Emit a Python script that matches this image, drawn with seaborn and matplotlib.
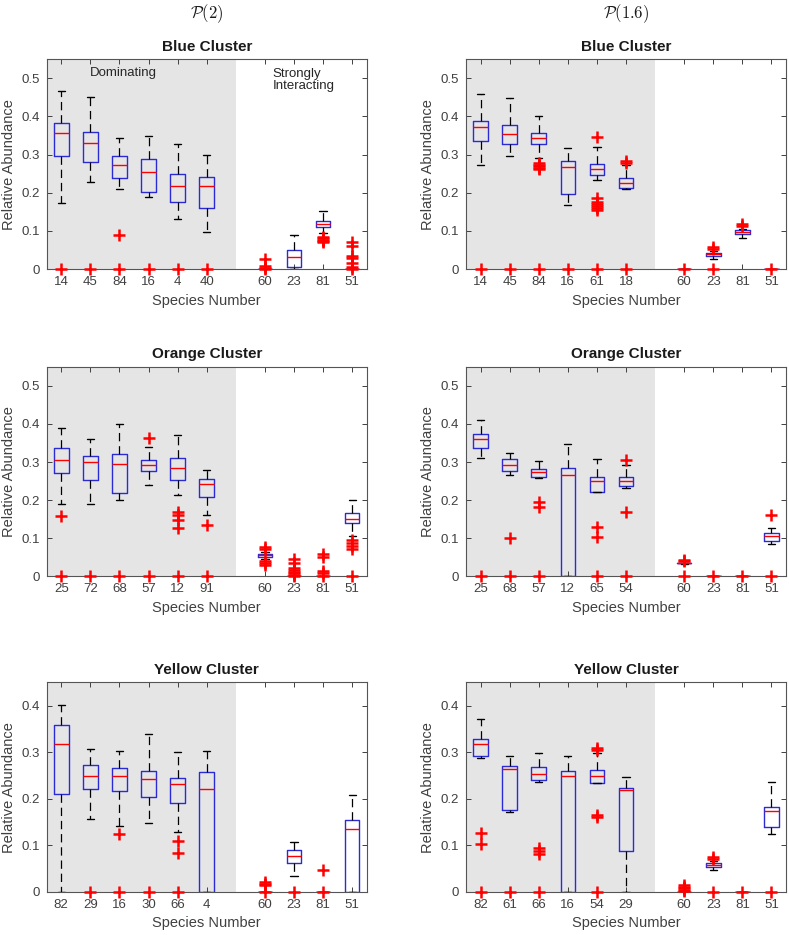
import matplotlib
matplotlib.use("Agg")
import matplotlib.pyplot as plt
import numpy as np
import pandas as pd
import seaborn as sns

# ---------------- data ----------------
POS = [1, 2, 3, 4, 5, 6, 8, 9, 10, 11]

# Blue cluster, P(2)
B2_LABELS = ["14", "45", "84", "16", "4", "40", "60", "23", "81", "51"]
B2_Q1 = [0.296, 0.281, 0.239, 0.202, 0.175, 0.160, 0.0, 0.004, 0.110, 0.0]
B2_MED = [0.356, 0.331, 0.273, 0.254, 0.218, 0.218, 0.0, 0.031, 0.119, 0.0]
B2_Q3 = [0.383, 0.359, 0.296, 0.288, 0.249, 0.241, 0.0, 0.049, 0.127, 0.0]
B2_LO = [0.172, 0.229, 0.211, 0.188, 0.131, 0.096, 0.0, 0.0, 0.095, 0.0]
B2_HI = [0.468, 0.452, 0.343, 0.350, 0.328, 0.298, 0.0, 0.088, 0.151, 0.0]
B2_FLIERS = [[0], [0], [0.090, 0], [0], [0], [0],
             [0.025, 0.008, 0.003, 0], [], [0.085, 0.080, 0.077, 0.074, 0.070],
             [0.072, 0.060, 0.035, 0.028, 0.015, 0.005, 0]]

# Blue cluster, P(1.6)
B16_LABELS = ["14", "45", "84", "16", "61", "18", "60", "23", "81", "51"]
B16_Q1 = [0.337, 0.329, 0.327, 0.196, 0.246, 0.213, 0.0, 0.035, 0.091, 0.0]
B16_MED = [0.372, 0.353, 0.343, 0.268, 0.262, 0.225, 0.0, 0.039, 0.096, 0.0]
B16_Q3 = [0.389, 0.377, 0.357, 0.282, 0.276, 0.239, 0.0, 0.043, 0.101, 0.0]
B16_LO = [0.274, 0.297, 0.291, 0.168, 0.233, 0.211, 0.0, 0.025, 0.081, 0.0]
B16_HI = [0.460, 0.449, 0.401, 0.318, 0.320, 0.273, 0.0, 0.048, 0.105, 0.0]
B16_FLIERS = [[0], [0], [0.278, 0.274, 0.270, 0.266, 0.262, 0], [0],
              [0.346, 0.185, 0.175, 0.170, 0.165, 0.160, 0.155, 0],
              [0.283, 0.278, 0], [0], [0.057, 0.052, 0], [0.118, 0.112], [0]]

# Orange cluster, P(2)
O2_LABELS = ["25", "72", "68", "57", "12", "91", "60", "23", "81", "51"]
O2_Q1 = [0.271, 0.254, 0.220, 0.276, 0.253, 0.208, 0.050, 0.0, 0.0, 0.140]
O2_MED = [0.306, 0.301, 0.296, 0.292, 0.285, 0.243, 0.056, 0.0, 0.0, 0.151]
O2_Q3 = [0.337, 0.316, 0.321, 0.306, 0.310, 0.255, 0.060, 0.0, 0.0, 0.167]
O2_LO = [0.191, 0.191, 0.200, 0.239, 0.213, 0.161, 0.045, 0.0, 0.0, 0.105]
O2_HI = [0.389, 0.360, 0.399, 0.339, 0.370, 0.279, 0.065, 0.0, 0.0, 0.200]
O2_FLIERS = [[0.158, 0], [0], [0], [0.362, 0], [0.170, 0.162, 0.148, 0.128, 0],
             [0.134, 0], [0.078, 0.072, 0.040, 0.035, 0.030],
             [0.046, 0.036, 0.022, 0.017, 0.012, 0.008, 0.004, 0],
             [0.058, 0.050, 0.015, 0.010, 0], [0.095, 0.088, 0.080, 0.073, 0]]

# Orange cluster, P(1.6)
O16_LABELS = ["25", "68", "57", "12", "65", "54", "60", "23", "81", "51"]
O16_Q1 = [0.337, 0.276, 0.260, 0.0, 0.221, 0.236, 0.034, 0.0, 0.0, 0.094]
O16_MED = [0.360, 0.292, 0.274, 0.266, 0.250, 0.249, 0.034, 0.0, 0.0, 0.106]
O16_Q3 = [0.374, 0.307, 0.282, 0.285, 0.261, 0.262, 0.034, 0.0, 0.0, 0.114]
O16_LO = [0.311, 0.267, 0.257, 0.0, 0.221, 0.232, 0.032, 0.0, 0.0, 0.086]
O16_HI = [0.411, 0.324, 0.303, 0.346, 0.308, 0.293, 0.036, 0.0, 0.0, 0.127]
O16_FLIERS = [[0], [0.102, 0], [0.196, 0.181, 0], [], [0.129, 0.103, 0],
              [0.306, 0.168, 0], [0.044, 0.040, 0], [0], [0], [0.161, 0]]

# Yellow cluster, P(2)
Y2_LABELS = ["82", "29", "16", "30", "66", "4", "60", "23", "81", "51"]
Y2_Q1 = [0.210, 0.222, 0.216, 0.203, 0.190, 0.0, 0.0, 0.063, 0.0, 0.0]
Y2_MED = [0.317, 0.250, 0.248, 0.242, 0.231, 0.220, 0.0, 0.078, 0.0, 0.135]
Y2_Q3 = [0.358, 0.273, 0.266, 0.260, 0.245, 0.258, 0.0, 0.090, 0.0, 0.155]
Y2_LO = [0.0, 0.157, 0.142, 0.148, 0.129, 0.0, 0.0, 0.034, 0.0, 0.0]
Y2_HI = [0.402, 0.306, 0.303, 0.340, 0.301, 0.302, 0.0, 0.107, 0.0, 0.208]
Y2_FLIERS = [[], [0], [0.124, 0], [0], [0.109, 0.084, 0], [],
             [0.022, 0.018, 0.015, 0], [0], [0.047, 0], []]

# Yellow cluster, P(1.6)
Y16_LABELS = ["82", "61", "66", "16", "54", "29", "60", "23", "81", "51"]
Y16_Q1 = [0.292, 0.175, 0.241, 0.0, 0.234, 0.087, 0.0, 0.054, 0.0, 0.140]
Y16_MED = [0.317, 0.263, 0.253, 0.250, 0.248, 0.218, 0.0, 0.059, 0.0, 0.174]
Y16_Q3 = [0.328, 0.270, 0.269, 0.260, 0.262, 0.224, 0.0, 0.062, 0.0, 0.183]
Y16_LO = [0.288, 0.172, 0.237, 0.0, 0.234, 0.0, 0.0, 0.048, 0.0, 0.125]
Y16_HI = [0.371, 0.292, 0.298, 0.291, 0.299, 0.247, 0.0, 0.067, 0.0, 0.236]
Y16_FLIERS = [[0.126, 0.102, 0], [0], [0.095, 0.088, 0.082, 0], [],
              [0.310, 0.305, 0.165, 0.160, 0], [],
              [0.015, 0.011, 0.008, 0.005, 0.002], [0.075, 0.070, 0], [0], [0]]

# ---------------- style ----------------
sns.set_style("ticks")
plt.rcParams["font.family"] = ["Liberation Sans", "DejaVu Sans"]
plt.rcParams["lines.scale_dashes"] = False

TXT = "#404040"
BOX_C = "#2b2bd6"
GRAY = "#e5e5e5"

W, H = 789, 935
fig = plt.figure(figsize=(W / 100, H / 100), dpi=100)


def rect(left_px, top_px, w_px, h_px):
    return [left_px / W, 1 - (top_px + h_px) / H, w_px / W, h_px / H]


def panel(ax, labels, q1, med, q3, lo, hi, fliers, title, ymax, yticks, notes):
    ax.axvspan(0.5, 7.0, color=GRAY, zorder=0, lw=0)
    stats = []
    for i in range(len(labels)):
        stats.append(dict(med=med[i], q1=q1[i], q3=q3[i],
                          whislo=lo[i], whishi=hi[i], fliers=fliers[i]))
    ax.bxp(stats, positions=POS, widths=0.5, capwidths=0.25, showfliers=True,
           manage_ticks=False,
           boxprops=dict(color=BOX_C, lw=1.0),
           medianprops=dict(color="#ff0000", lw=1.0),
           whiskerprops=dict(color="black", lw=0.9, linestyle=(0, (6, 3.5))),
           capprops=dict(color="black", lw=1.0),
           flierprops=dict(marker="+", markeredgecolor="#ff0000",
                           markersize=8, markeredgewidth=1.8,
                           linestyle="none", zorder=4, clip_on=False))
    ax.set_xlim(0.5, 11.5)
    ax.set_ylim(0, ymax)
    ax.set_xticks(POS)
    ax.set_xticklabels(labels)
    ax.set_yticks(yticks)
    ax.set_yticklabels(["0"] + [f"{t:.1f}" for t in yticks[1:]])
    ax.tick_params(direction="in", top=True, right=True, length=3.5,
                   width=0.7, colors=TXT, labelsize=9.5, pad=5)
    for s in ax.spines.values():
        s.set_color("#555555")
        s.set_linewidth(0.8)
        s.set_zorder(3)
    ax.set_xlabel("Species Number", fontsize=10.5, color=TXT, labelpad=4)
    ax.set_ylabel("Relative Abundance", fontsize=10.5, color=TXT, labelpad=4)
    ax.set_title(title, fontsize=11, fontweight="bold", color="#1a1a1a", pad=6)
    if notes:
        ax.text(2.0, 0.513, "Dominating", fontsize=9.5, color="#262626",
                ha="left", va="center")
        ax.text(8.27, 0.497, "Strongly\nInteracting", fontsize=9.5,
                color="#262626", ha="left", va="center", linespacing=1.0)


AX_W, AX_H = 320, 209.7
LEFTS = [46.7, 466.0]
TOPS = [59.3, 366.7, 682.3]

panels = [
    (0, 0, B2_LABELS, B2_Q1, B2_MED, B2_Q3, B2_LO, B2_HI, B2_FLIERS, "Blue Cluster", 0.55, True),
    (0, 1, B16_LABELS, B16_Q1, B16_MED, B16_Q3, B16_LO, B16_HI, B16_FLIERS, "Blue Cluster", 0.55, False),
    (1, 0, O2_LABELS, O2_Q1, O2_MED, O2_Q3, O2_LO, O2_HI, O2_FLIERS, "Orange Cluster", 0.55, False),
    (1, 1, O16_LABELS, O16_Q1, O16_MED, O16_Q3, O16_LO, O16_HI, O16_FLIERS, "Orange Cluster", 0.55, False),
    (2, 0, Y2_LABELS, Y2_Q1, Y2_MED, Y2_Q3, Y2_LO, Y2_HI, Y2_FLIERS, "Yellow Cluster", 0.45, False),
    (2, 1, Y16_LABELS, Y16_Q1, Y16_MED, Y16_Q3, Y16_LO, Y16_HI, Y16_FLIERS, "Yellow Cluster", 0.45, False),
]

for r, c, lab, q1, med, q3, lo, hi, fl, title, ymax, notes in panels:
    ax = fig.add_axes(rect(LEFTS[c], TOPS[r], AX_W, AX_H))
    yt = [0, 0.1, 0.2, 0.3, 0.4, 0.5] if ymax > 0.5 else [0, 0.1, 0.2, 0.3, 0.4]
    panel(ax, lab, q1, med, q3, lo, hi, fl, title, ymax, yt, notes)

for c, txt in enumerate([r"$\mathcal{P}(2)$", r"$\mathcal{P}(1.6)$"]):
    fig.text((LEFTS[c] + AX_W / 2) / W, 1 - 14 / H, txt, math_fontfamily="cm",
             fontsize=12, ha="center", va="center", color="#1a1a1a")

fig.savefig("out.png", dpi=100)
